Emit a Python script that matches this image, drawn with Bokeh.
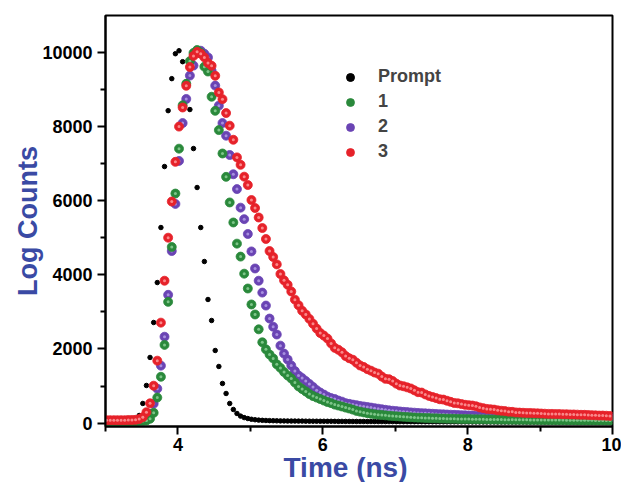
from bokeh.plotting import figure
from bokeh.models import Range1d, FixedTicker, Legend, LegendItem, Title
from bokeh.embed import file_html
from bokeh.resources import INLINE

# Time channels (ns)
time_ns = [
    3.015, 3.065, 3.115, 3.165, 3.215, 3.265, 3.315, 3.365, 3.415, 3.465,
    3.515, 3.565, 3.615, 3.665, 3.715, 3.765, 3.815, 3.865, 3.915, 3.965,
    4.015, 4.065, 4.115, 4.165, 4.215, 4.265, 4.315, 4.365, 4.415, 4.465,
    4.515, 4.565, 4.615, 4.665, 4.715, 4.765, 4.815, 4.865, 4.915, 4.965,
    5.015, 5.065, 5.115, 5.165, 5.215, 5.265, 5.315, 5.365, 5.415, 5.465,
    5.515, 5.565, 5.615, 5.665, 5.715, 5.765, 5.815, 5.865, 5.915, 5.965,
    6.015, 6.065, 6.115, 6.165, 6.215, 6.265, 6.315, 6.365, 6.415, 6.465,
    6.515, 6.565, 6.615, 6.665, 6.715, 6.765, 6.815, 6.865, 6.915, 6.965,
    7.015, 7.065, 7.115, 7.165, 7.215, 7.265, 7.315, 7.365, 7.415, 7.465,
    7.515, 7.565, 7.615, 7.665, 7.715, 7.765, 7.815, 7.865, 7.915, 7.965,
    8.015, 8.065, 8.115, 8.165, 8.215, 8.265, 8.315, 8.365, 8.415, 8.465,
    8.515, 8.565, 8.615, 8.665, 8.715, 8.765, 8.815, 8.865, 8.915, 8.965,
    9.015, 9.065, 9.115, 9.165, 9.215, 9.265, 9.315, 9.365, 9.415, 9.465,
    9.515, 9.565, 9.615, 9.665, 9.715, 9.765, 9.815, 9.865, 9.915, 9.965,
]

prompt = [
    10, 10, 15, 10, 15, 20, 25, 45, 95, 207,
    531, 1016, 1771, 2714, 3791, 5274, 6918, 8425, 9288, 9960,
    10040, 9745, 9200, 8455, 7403, 6353, 5274, 4358, 3334, 2768,
    1959, 1528, 1070, 800, 531, 369, 261, 190, 150, 125,
    105, 92, 82, 76, 72, 68, 66, 63, 61, 60,
    58, 57, 57, 55, 55, 54, 53, 53, 52, 51,
    51, 50, 50, 49, 48, 48, 47, 47, 46, 46,
    45, 45, 44, 44, 44, 43, 43, 42, 42, 42,
    41, 41, 40, 40, 40, 39, 39, 39, 38, 38,
    38, 37, 37, 37, 36, 36, 36, 35, 35, 35,
    35, 34, 34, 34, 33, 33, 33, 33, 32, 32,
    32, 32, 31, 31, 31, 31, 30, 30, 30, 30,
    30, 29, 29, 29, 29, 28, 28, 28, 28, 28,
    27, 27, 27, 27, 27, 26, 26, 26, 26, 26,
]

sample_1 = [
    40, 40, 40, 40, 40, 40, 40, 45, 45, 50,
    60, 70, 120, 280, 690, 1250, 2110, 3270, 4750, 6190,
    7400, 8570, 9150, 9760, 9980, 10060, 9980, 9610, 9480, 8800,
    8420, 7900, 7270, 6640, 5950, 5410, 4840, 4490, 4030, 3630,
    3200, 2930, 2530, 2180, 1990, 1850, 1745, 1585, 1490, 1380,
    1285, 1205, 1095, 990, 920, 855, 785, 730, 690, 650,
    610, 570, 540, 500, 475, 450, 420, 395, 365, 330,
    310, 290, 270, 255, 240, 230, 220, 210, 200, 190,
    185, 178, 170, 165, 158, 152, 148, 145, 140, 136,
    132, 130, 127, 124, 122, 120, 118, 115, 113, 111,
    110, 108, 106, 105, 103, 102, 100, 99, 98, 96,
    95, 94, 93, 92, 91, 90, 89, 88, 88, 87,
    86, 85, 85, 84, 83, 82, 82, 81, 80, 80,
    79, 78, 78, 77, 76, 75, 75, 74, 73, 72,
]

sample_2 = [
    60, 60, 60, 60, 60, 60, 60, 60, 65, 70,
    95, 140, 255, 525, 930, 1550, 2330, 3460, 4640, 5910,
    7070, 8090, 8740, 9370, 9640, 9990, 10040, 9960, 9860, 9500,
    9100, 8560, 8090, 7750, 7230, 6710, 6310, 5810, 5500, 5100,
    4630, 4170, 3840, 3520, 3170, 2820, 2600, 2390, 2090, 1875,
    1715, 1555, 1405, 1285, 1215, 1135, 1055, 975, 890, 825,
    770, 715, 675, 650, 610, 580, 540, 520, 500, 485,
    465, 450, 435, 420, 405, 390, 375, 360, 345, 335,
    325, 315, 305, 298, 290, 283, 276, 270, 264, 258,
    253, 248, 243, 238, 233, 228, 224, 220, 216, 212,
    208, 205, 202, 200, 198, 196, 194, 192, 190, 188,
    186, 184, 182, 180, 178, 177, 175, 174, 172, 171,
    170, 168, 167, 166, 165, 164, 163, 162, 161, 160,
    159, 158, 157, 156, 155, 154, 153, 152, 151, 150,
]

sample_3 = [
    80, 80, 80, 80, 80, 80, 85, 85, 90, 110,
    160, 295, 535, 1010, 1685, 2710, 3840, 5000, 5975, 7045,
    7995, 8510, 9095, 9600, 9900, 10010, 9960, 9860, 9710, 9635,
    9365, 8915, 8735, 8360, 8020, 7640, 7165, 6965, 6645, 6420,
    6015, 5800, 5545, 5260, 4965, 4640, 4480, 4280, 4020, 3850,
    3730, 3550, 3330, 3180, 3030, 2930, 2810, 2680, 2550, 2430,
    2360, 2280, 2150, 2030, 1980, 1910, 1810, 1750, 1710, 1630,
    1555, 1515, 1455, 1415, 1365, 1335, 1255, 1195, 1185, 1135,
    1065, 1015, 995, 965, 935, 885, 835, 825, 775, 735,
    705, 675, 645, 635, 605, 575, 545, 535, 515, 495,
    485, 475, 455, 425, 405, 385, 375, 365, 345, 335,
    325, 310, 305, 290, 285, 280, 275, 275, 270, 265,
    260, 255, 250, 250, 245, 245, 240, 240, 235, 235,
    230, 225, 225, 220, 215, 210, 205, 205, 200, 195,
]

x_ticks = [4, 6, 8, 10]
x_minor = [3, 5, 7, 9]
y_ticks = [0, 2000, 4000, 6000, 8000, 10000]
y_minor = [1000, 3000, 5000, 7000, 9000]

FONT = "Liberation Sans"
LABEL_BLUE = "#3a4aa4"

p = figure(width=621, height=482, frame_width=507, frame_height=411,
           x_range=Range1d(3, 10), y_range=Range1d(-90, 10990),
           output_backend="svg", toolbar_location=None,
           min_border_left=105, min_border_right=9, min_border_top=15, min_border_bottom=56)
p.background_fill_color = "white"
p.border_fill_color = "white"
p.outline_line_color = "black"
p.outline_line_width = 2
p.xgrid.grid_line_color = None
p.ygrid.grid_line_color = None

p.xaxis.ticker = FixedTicker(ticks=x_ticks, minor_ticks=x_minor)
p.yaxis.ticker = FixedTicker(ticks=y_ticks, minor_ticks=y_minor)
for ax in (p.xaxis, p.yaxis):
    ax.axis_line_width = 2
    ax.axis_line_color = "black"
    ax.major_tick_line_width = 2
    ax.minor_tick_line_width = 2
    ax.major_tick_in = 0
    ax.major_tick_out = 8
    ax.minor_tick_in = 0
    ax.minor_tick_out = 5
    ax.major_label_text_font = FONT
    ax.major_label_text_font_style = "bold"
    ax.major_label_text_font_size = "18px"
    ax.major_label_text_color = "black"
    ax.axis_label_text_font = FONT
    ax.axis_label_text_font_style = "bold"
    ax.axis_label_text_color = LABEL_BLUE
p.yaxis.axis_label = "Log Counts"
p.yaxis.axis_label_text_font_size = "27px"
p.xaxis.major_label_standoff = 3
p.yaxis.major_label_standoff = 5
p.yaxis.axis_label_standoff = -4

xlabel = Title(text="Time (ns)", align="left", offset=178, standoff=-8,
               text_font=FONT, text_font_style="bold", text_font_size="28px",
               text_color=LABEL_BLUE)
p.add_layout(xlabel, "below")

rp = p.scatter(time_ns, prompt, size=4.5, color="black")

series = [
    (sample_2, "#6a44b4", "#b7a2ea"),
    (sample_1, "#2a893b", "#93d49d"),
    (sample_3, "#e6222a", "#ffa3a3"),
]
main = {}
for data, col, hl in series:
    r = p.scatter(time_ns, data, size=9, fill_color=col, line_color=col, line_width=0.8)
    p.scatter(time_ns, data, size=3, fill_color=hl, line_color=None, fill_alpha=0.8)
    main[col] = r

legend = Legend(items=[
    LegendItem(label="Prompt", renderers=[rp]),
    LegendItem(label="1", renderers=[main["#2a893b"]]),
    LegendItem(label="2", renderers=[main["#6a44b4"]]),
    LegendItem(label="3", renderers=[main["#e6222a"]]),
], location=(235, 264), glyph_width=20, glyph_height=20, label_height=20,
    label_standoff=18, spacing=4, padding=0, margin=0,
    border_line_color=None, background_fill_alpha=0,
    label_text_font=FONT, label_text_font_style="bold", label_text_font_size="18px")
p.add_layout(legend)

open("out.html", "w").write(file_html(p, INLINE))
